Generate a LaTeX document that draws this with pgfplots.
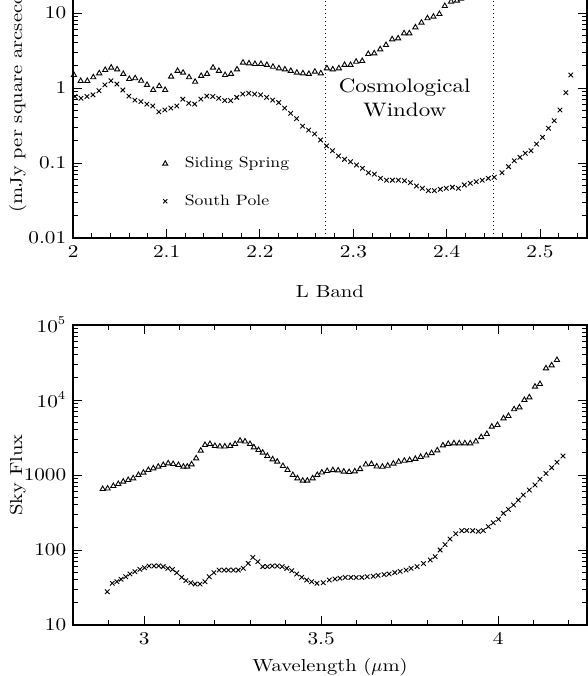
\documentclass[border=0pt]{standalone}
\usepackage{fontspec}
\setmainfont{lmroman10-regular.otf}[FakeStretch=1.18]
\usepackage{pgfplots}
\pgfplotsset{compat=1.18}

% Siding Spring, K band
\pgfplotstableread{
x v
2.0007 1.49
2.0079 1.24
2.0150 1.24
2.0214 1.39
2.0278 1.57
2.0342 1.74
2.0406 1.87
2.0470 1.77
2.0535 1.54
2.0600 1.32
2.0663 1.35
2.0727 1.25
2.0790 1.10
2.0856 0.94
2.0920 1.06
2.0984 0.94
2.1048 1.42
2.1117 1.69
2.1176 1.60
2.1240 1.39
2.1305 1.21
2.1370 1.45
2.1433 1.54
2.1497 1.87
2.1560 1.69
2.1626 1.49
2.1690 1.54
2.1754 1.77
2.1818 2.18
2.1882 2.13
2.1946 2.09
2.2010 2.09
2.2074 2.03
2.2139 1.92
2.2203 1.83
2.2267 1.77
2.2330 1.69
2.2395 1.60
2.2460 1.57
2.2524 1.54
2.2588 1.65
2.2652 1.57
2.2717 1.83
2.2780 1.77
2.2845 1.83
2.2906 2.03
2.2970 2.03
2.3030 2.24
2.3095 2.29
2.3160 2.84
2.3224 2.90
2.3288 3.28
2.3350 3.74
2.3416 4.46
2.3480 4.59
2.3544 5.36
2.3600 5.36
2.3665 6.44
2.3730 7.43
2.3794 8.50
2.3858 8.93
2.3922 9.70
2.3980 12.4
2.4047 14.2
2.4110 14.6
2.4154 15.5
}\ssK

% South Pole, K band
\pgfplotstableread{
x v
2.0018 0.77
2.0082 0.73
2.0146 0.77
2.0211 0.81
2.0275 0.92
2.0339 1.10
2.0403 1.25
2.0467 1.13
2.0531 0.94
2.0596 0.78
2.0660 0.69
2.0724 0.66
2.0788 0.61
2.0852 0.575
2.0916 0.48
2.0981 0.51
2.1045 0.54
2.1109 0.575
2.1173 0.71
2.1237 0.625
2.1301 0.61
2.1366 0.71
2.1430 0.78
2.1494 0.77
2.1558 0.73
2.1622 0.68
2.1686 0.68
2.1751 0.75
2.1815 0.83
2.1879 0.85
2.1943 0.83
2.2007 0.81
2.2071 0.75
2.2136 0.69
2.2200 0.64
2.2264 0.54
2.2328 0.46
2.2392 0.39
2.2456 0.31
2.2521 0.275
2.2585 0.244
2.2649 0.203
2.2713 0.169
2.2777 0.146
2.2841 0.124
2.2906 0.112
2.2970 0.104
2.3034 0.094
2.3098 0.085
2.3162 0.074
2.3226 0.071
2.3291 0.0625
2.3355 0.059
2.3419 0.059
2.3483 0.059
2.3547 0.058
2.3611 0.0547
2.3676 0.0493
2.3740 0.046
2.3804 0.0428
2.3868 0.0428
2.3932 0.0446
2.3996 0.046
2.4061 0.0475
2.4125 0.046
2.4189 0.051
2.4253 0.0536
2.4317 0.0564
2.4381 0.059
2.4446 0.0625
2.4510 0.0645
2.4593 0.0743
2.4663 0.0893
2.4724 0.107
2.4785 0.119
2.4842 0.135
2.4903 0.146
2.4963 0.179
2.5027 0.220
2.5091 0.290
2.5152 0.366
2.5213 0.509
2.5277 0.865
2.5330 1.49
}\spK

% Siding Spring, L band
\pgfplotstableread{
x v
2.883 650
2.897 660
2.913 713
2.927 759
2.941 815
2.955 858
2.969 903
2.984 1000
2.998 1074
3.012 1166
3.026 1228
3.040 1292
3.054 1360
3.068 1432
3.082 1400
3.097 1360
3.111 1292
3.122 1292
3.134 1387
3.147 1668
3.160 2110
3.172 2512
3.186 2590
3.200 2437
3.214 2400
3.228 2400
3.243 2437
3.257 2590
3.271 2870
3.285 2800
3.299 2590
3.310 2340
3.323 2154
3.335 1985
3.348 1792
3.363 1618
3.376 1506
3.392 1318
3.405 1166
3.420 1000
3.433 903
3.448 840
3.461 840
3.476 903
3.489 1000
3.502 1080
3.517 1130
3.533 1160
3.548 1150
3.564 1110
3.579 1096
3.595 1120
3.610 1200
3.626 1380
3.642 1400
3.657 1300
3.673 1290
3.688 1330
3.704 1420
3.719 1500
3.735 1550
3.750 1580
3.766 1640
3.781 1740
3.797 1820
3.812 1960
3.828 2130
3.844 2480
3.859 2600
3.875 2645
3.890 2645
3.906 2645
3.921 2645
3.937 2800
3.952 3200
3.968 3520
3.982 4410
3.998 4640
4.015 5700
4.029 6120
4.045 7520
4.060 7990
4.074 10000
4.088 10860
4.104 15060
4.118 16330
4.135 26450
4.151 28980
4.166 34150
}\ssL

% South Pole, L band
\pgfplotstableread{
x v
2.896 27.8
2.910 36
2.923 37.8
2.935 40.7
2.948 44
2.960 47.9
2.974 51.4
2.988 55.2
3.001 58
3.014 61.2
3.028 61.2
3.041 61.5
3.054 60
3.067 57
3.080 55
3.092 49.8
3.106 43.3
3.118 39
3.132 36.6
3.144 35.2
3.158 35.2
3.172 37.8
3.184 44
3.197 49.8
3.212 54
3.226 54
3.238 54
3.252 54
3.266 54
3.280 57
3.294 66.4
3.307 79.8
3.321 69.9
3.335 60
3.348 60
3.362 61.2
3.376 61.2
3.390 60
3.403 57
3.417 53
3.431 47.9
3.445 43.3
3.459 39.8
3.473 37.8
3.488 36
3.506 36.6
3.523 39.8
3.539 41
3.553 42
3.568 43
3.584 43
3.599 43
3.615 43
3.630 44
3.647 44.7
3.661 46
3.678 47
3.692 48
3.708 50
3.723 52
3.740 54
3.754 57
3.771 60
3.789 66
3.808 73.6
3.822 81.5
3.836 100
3.850 118
3.864 140
3.880 165
3.897 181
3.911 182
3.928 181
3.944 177
3.958 182
3.972 205
3.986 231
4.001 257
4.015 308
4.029 348
4.043 398
4.057 464
4.071 541
4.088 631
4.104 736
4.118 877
4.135 1050
4.151 1250
4.166 1480
4.183 1790
}\spL

\begin{document}
\begin{tikzpicture}

% K band (top, cut off by the page)
\begin{axis}[
  scale only axis, width=256.7pt, height=150pt,
  at={(36.65pt,219pt)}, anchor=south west,
  ymode=log,
  xmin=2, xmax=2.55, ymin=0.01, ymax=100,
  axis line style={line width=0.9pt},
  tick style={line width=0.5pt, black},
  major tick length=4.5pt, minor tick length=2.3pt,
  tick align=inside,
  tick label style={font=\fontsize{9}{10}\selectfont},
  xtick={2,2.1,2.2,2.3,2.4,2.5},
  xticklabels={2,2.1,2.2,2.3,2.4,2.5},
  minor xtick={2.02,2.04,2.06,2.08,2.12,2.14,2.16,2.18,2.22,2.24,2.26,2.28,
    2.32,2.34,2.36,2.38,2.42,2.44,2.46,2.48,2.52,2.54},
  ytick={0.01,0.1,1,10,100},
  yticklabels={0.01,0.1,1,10,100},
  minor ytick={0.02,0.03,0.04,0.05,0.06,0.07,0.08,0.09,
    0.2,0.3,0.4,0.5,0.6,0.7,0.8,0.9,2,3,4,5,6,7,8,9,
    20,30,40,50,60,70,80,90},
  ylabel={(mJy per square arcsecond)},
  ylabel style={at={(axis description cs:-0.108,0.5)}, rotate=0,
    anchor=center, font=\fontsize{8.7}{10}\selectfont},
  legend style={draw=none, fill=none, inner sep=0pt,
    at={(axis cs:2.0954,0.055)}, anchor=west,
    font=\fontsize{7.5}{8}\selectfont, row sep=8pt, column sep=6.5pt,
    cells={anchor=west}},
  legend image post style={mark size=1.45pt},
]
\addplot[only marks, mark=triangle, mark size=1.5pt,
  mark options={line width=0.45pt, black}] table[x=x,y=v] {\ssK};
\addlegendentry{Siding Spring}
\addplot[only marks, mark=x, mark size=1.6pt,
  mark options={line width=0.45pt, black}] table[x=x,y=v] {\spK};
\addlegendentry{South Pole}
\addplot[forget plot, black, line width=0.4pt, dash pattern=on 0.5pt off 1.5pt]
  coordinates {(2.27,0.01) (2.27,100)};
\addplot[forget plot, black, line width=0.4pt, dash pattern=on 0.5pt off 1.5pt]
  coordinates {(2.45,0.01) (2.45,100)};
\node[align=center, font=\fontsize{9.75}{12}\selectfont]
  at (axis cs:2.355,0.74) {Cosmological\\Window};
\end{axis}

% L band
\begin{axis}[
  scale only axis, width=256.7pt, height=150pt,
  at={(36.65pt,25.5pt)}, anchor=south west,
  ymode=log,
  title={L Band},
  title style={at={(axis description cs:0.5,1)}, anchor=base,
    yshift=7.8pt, font=\fontsize{8.8}{10}\selectfont},
  xmin=2.8, xmax=4.25, ymin=10, ymax=1e5,
  axis line style={line width=0.9pt},
  tick style={line width=0.5pt, black},
  major tick length=4.5pt, minor tick length=2.3pt,
  tick align=inside,
  tick label style={font=\fontsize{9}{10}\selectfont},
  xtick={3,3.5,4},
  xticklabels={3,3.5,4},
  minor xtick={2.9,3.1,3.2,3.3,3.4,3.6,3.7,3.8,3.9,4.1,4.2},
  ytick={10,100,1000,1e4,1e5},
  yticklabels={10,100,1000,10$^4$,10$^5$},
  minor ytick={20,30,40,50,60,70,80,90,200,300,400,500,600,700,800,900,
    2000,3000,4000,5000,6000,7000,8000,9000,
    20000,30000,40000,50000,60000,70000,80000,90000},
  ylabel={Sky Flux},
  ylabel style={at={(axis description cs:-0.108,0.5)}, rotate=0,
    anchor=center, font=\fontsize{8.7}{10}\selectfont},
  xlabel={Wavelength ($\mu$m)},
  xlabel style={at={(axis description cs:0.5,0)}, anchor=base,
    yshift=-23pt, font=\fontsize{8.7}{10}\selectfont},
]
\addplot[only marks, mark=triangle, mark size=1.5pt,
  mark options={line width=0.45pt, black}] table[x=x,y=v] {\ssL};
\addplot[only marks, mark=x, mark size=1.6pt,
  mark options={line width=0.45pt, black}] table[x=x,y=v] {\spL};
\end{axis}

\pgfresetboundingbox
\path[use as bounding box] (0,0) rectangle (294pt,338pt);
\end{tikzpicture}
\end{document}
